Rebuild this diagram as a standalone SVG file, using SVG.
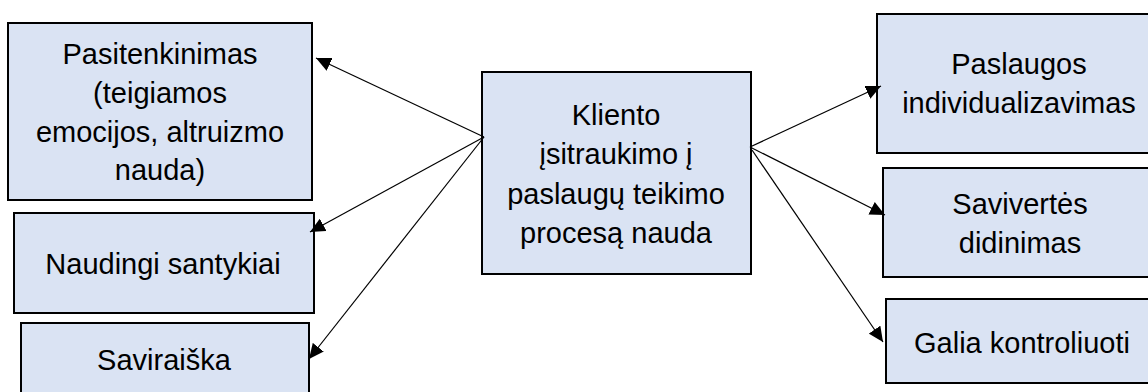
<svg xmlns="http://www.w3.org/2000/svg" width="1148" height="392" viewBox="0 0 1148 392">
<style>
.box{fill:#dae3f3;stroke:#000;stroke-width:2}
.t{font-family:"Liberation Sans",Arial,sans-serif;font-size:29px;fill:#000;text-anchor:middle}
.c{stroke:#000;stroke-width:1.2;fill:none;marker-end:url(#ah)}
</style>
<defs>
<marker id="ah" markerUnits="userSpaceOnUse" markerWidth="16" markerHeight="14" refX="15" refY="7" orient="auto">
<path d="M0,0 L15,7 L0,14 Z" fill="#000"/>
</marker>
</defs>
<rect width="1148" height="392" fill="#fff"/>
<g id="n-pasitenkinimas">
<rect class="box" x="8" y="23" width="304" height="177"/>
<text class="t" x="160" y="64">Pasitenkinimas</text>
<text class="t" x="160" y="103">(teigiamos</text>
<text class="t" x="160" y="142">emocijos, altruizmo</text>
<text class="t" x="160" y="180">nauda)</text>
</g>
<g id="n-naudingi">
<rect class="box" x="14" y="213" width="300" height="100"/>
<text class="t" x="163" y="274">Naudingi santykiai</text>
</g>
<g id="n-saviraiska">
<rect class="box" x="21" y="323" width="288" height="90"/>
<text class="t" x="164" y="370">Saviraiška</text>
</g>
<g id="n-center">
<rect class="box" x="482" y="72" width="269" height="202"/>
<text class="t" x="616" y="125">Kliento</text>
<text class="t" x="616" y="164">įsitraukimo į</text>
<text class="t" x="616" y="204">paslaugų teikimo</text>
<text class="t" x="616" y="243">procesą nauda</text>
</g>
<g id="n-paslaugos">
<rect class="box" x="877" y="14" width="290" height="139"/>
<text class="t" x="1019" y="74">Paslaugos</text>
<text class="t" x="1019" y="113">individualizavimas</text>
</g>
<g id="n-saviverte">
<rect class="box" x="883" y="168" width="290" height="109"/>
<text class="t" x="1020" y="214">Savivertės</text>
<text class="t" x="1020" y="253">didinimas</text>
</g>
<g id="n-galia">
<rect class="box" x="886" y="299" width="290" height="84"/>
<text class="t" x="1022" y="353">Galia kontroliuoti</text>
</g>
<g id="connectors">
<line class="c" x1="484" y1="137" x2="316" y2="58"/>
<line class="c" x1="484" y1="137" x2="310" y2="232"/>
<line class="c" x1="484" y1="137" x2="309" y2="359"/>
<line class="c" x1="750" y1="147" x2="881" y2="86"/>
<line class="c" x1="750" y1="147" x2="885" y2="215"/>
<line class="c" x1="752" y1="150" x2="883" y2="342"/>
</g>
</svg>
